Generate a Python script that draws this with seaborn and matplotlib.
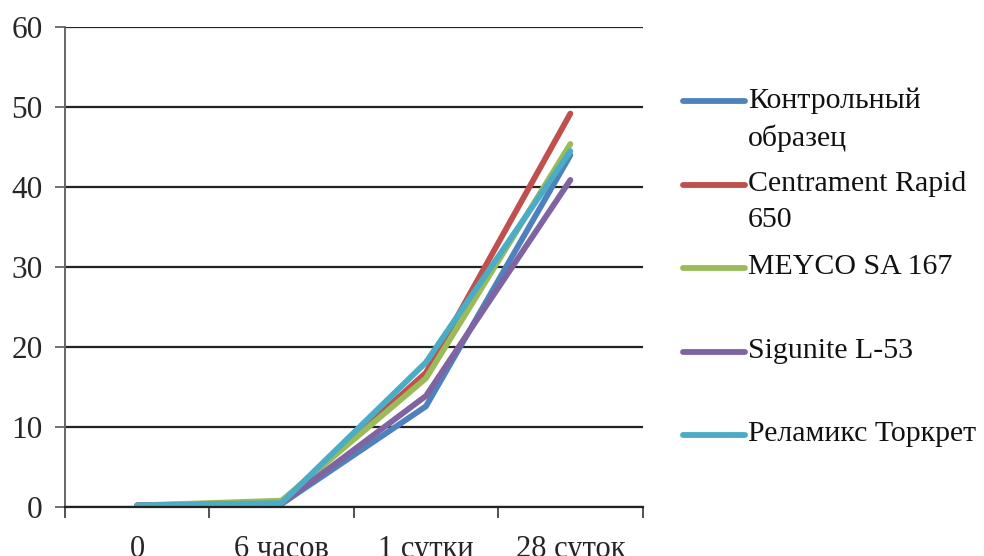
import matplotlib
matplotlib.use("Agg")
import matplotlib.pyplot as plt
from matplotlib.lines import Line2D
import seaborn as sns
import pandas as pd

categories = ["0", "6 часов", "1 сутки", "28 суток"]
series_names = ["Контрольный\nобразец", "Centrament Rapid\n650", "MEYCO SA 167",
                "Sigunite L-53", "Реламикс Торкрет"]
kontrol = [0.2, 0.4, 12.6, 44.0]
centrament = [0.2, 0.6, 16.8, 49.2]
meyco = [0.2, 0.8, 16.1, 45.4]
sigunite = [0.2, 0.4, 13.9, 40.9]
relamix = [0.2, 0.5, 18.1, 44.5]
all_values = [kontrol, centrament, meyco, sigunite, relamix]
colors = ["#4F81BD", "#C0504D", "#9BBB59", "#8064A2", "#4BACC6"]

rows = []
for name, vals in zip(series_names, all_values):
    for i, v in enumerate(vals):
        rows.append({"pos": i, "cat": categories[i], "series": name, "value": v})
df = pd.DataFrame(rows)

sns.set_style("white")
plt.rcParams["font.family"] = ["Liberation Serif", "DejaVu Serif"]

W, H = 984, 556
fig = plt.figure(figsize=(W / 100, H / 100), dpi=100)
ax = fig.add_axes([0.066, 0.088, 0.587, 0.863])

sns.lineplot(data=df, x="pos", y="value", hue="series", palette=colors,
             linewidth=4.2, ax=ax, sort=False, legend=False,
             solid_capstyle="round")

ax.set_xlim(-0.5, 3.5)
ax.set_ylim(0, 60)
ax.set_yticks(range(0, 61, 10))
ax.yaxis.grid(True, color="#222222", linewidth=1.6)
ax.set_axisbelow(True)
ax.tick_params(axis="y", labelsize=22.5, length=7, width=1.2, color="#555555",
               direction="out", pad=9, left=True)

ax.set_xticks([-0.5, 0.5, 1.5, 2.5, 3.5])
ax.set_xticklabels([])
ax.set_xticks(range(len(categories)), minor=True)
ax.set_xticklabels(categories, minor=True)
ax.tick_params(axis="x", which="major", length=8, width=1.2, color="#333333",
               direction="out", bottom=True)
ax.tick_params(axis="x", which="minor", length=0, labelsize=22, pad=20)

for s in ["top", "right"]:
    ax.spines[s].set_visible(False)
ax.spines["left"].set_color("#666666")
ax.spines["left"].set_linewidth(1.4)
ax.spines["bottom"].set_color("#222222")
ax.spines["bottom"].set_linewidth(1.6)
ax.set_xlabel("")
ax.set_ylabel("")

# legend: equally spaced entries, handle aligned with the first text line
y0, step = 101, 83.5
for i, (name, col) in enumerate(zip(series_names, colors)):
    yp = 1 - (y0 + i * step) / H
    fig.add_artist(Line2D([683 / W, 745 / W], [yp, yp], transform=fig.transFigure,
                          color=col, linewidth=4.2, solid_capstyle="round"))
    fig.text(748 / W, yp + 14 / H, name, fontsize=21.5, va="top", ha="left",
             linespacing=1.5, color="#111111")

fig.savefig("out.png", dpi=100)
